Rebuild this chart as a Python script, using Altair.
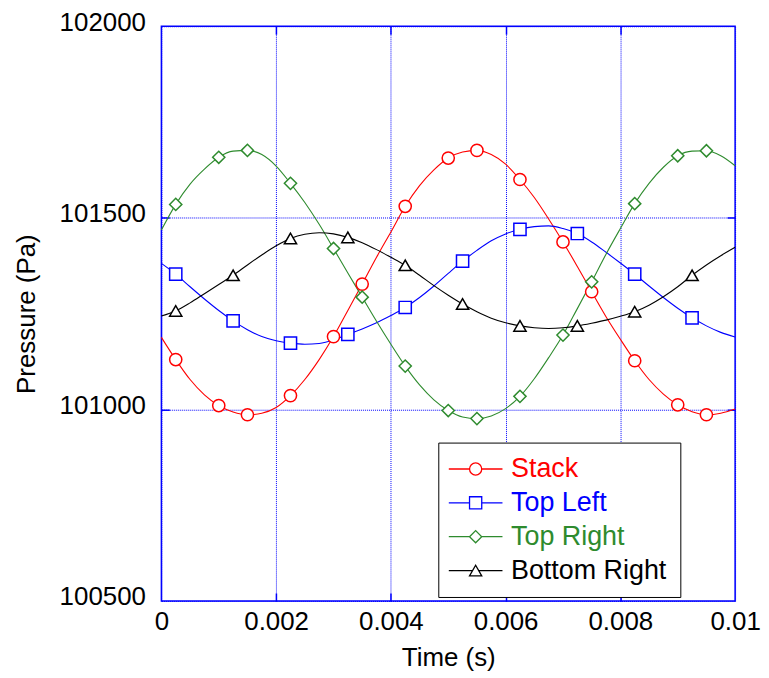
import altair as alt
import pandas as pd

# ---------------- data ----------------
time_s = [0.0, 0.00025, 0.0005, 0.00075, 0.001, 0.00125, 0.0015, 0.00175, 0.002, 0.00225,
          0.0025, 0.00275, 0.003, 0.00325, 0.0035, 0.00375, 0.004, 0.00425, 0.0045, 0.00475,
          0.005, 0.00525, 0.0055, 0.00575, 0.006, 0.00625, 0.0065, 0.00675, 0.007, 0.00725,
          0.0075, 0.00775, 0.008, 0.00825, 0.0085, 0.00875, 0.009, 0.00925, 0.0095, 0.00975, 0.01]

stack = [101188, 101130, 101078, 101038, 101010, 100993, 100986, 100990, 101005, 101036,
         101078, 101130, 101190, 101258, 101327, 101397, 101463, 101530, 101584, 101625,
         101656, 101672, 101676, 101665, 101640, 101600, 101553, 101497, 101437, 101373,
         101307, 101242, 101183, 101127, 101078, 101040, 101012, 100994, 100986, 100990, 101001]

top_left = [101381, 101353, 101320, 101288, 101258, 101231, 101208, 101190, 101179, 101173,
            101170, 101172, 101181, 101196, 101210, 101226, 101245, 101266, 101292, 101322,
            101355, 101387, 101415, 101440, 101458, 101470, 101477, 101479, 101472, 101459,
            101437, 101410, 101382, 101353, 101322, 101292, 101264, 101239, 101218, 101201, 101189]

top_right = [101468, 101535, 101588, 101627, 101658, 101674, 101676, 101665, 101635, 101590,
             101540, 101483, 101420, 101356, 101293, 101230, 101170, 101113, 101064, 101025,
             100997, 100980, 100976, 100983, 101002, 101034, 101080, 101135, 101194, 101263,
             101333, 101405, 101472, 101537, 101590, 101632, 101662, 101674, 101675, 101662, 101636]

bottom_right = [101244, 101257, 101278, 101302, 101326, 101350, 101377, 101403, 101427, 101446,
                101457, 101461, 101458, 101449, 101435, 101417, 101397, 101376, 101350, 101323,
                101298, 101275, 101255, 101238, 101226, 101218, 101213, 101211, 101213, 101218,
                101225, 101233, 101243, 101255, 101272, 101294, 101320, 101350, 101377, 101401, 101423]

series = ["Stack", "Top Left", "Top Right", "Bottom Right"]
colors = ["#ff0000", "#0000ff", "#2e8b2e", "#000000"]
shapes = ["circle", "square", "diamond", "triangle-up"]
marker_sizes = [150, 150, 150, 210]

markers_a = [0.00025, 0.001, 0.0015, 0.00225, 0.003, 0.0035, 0.00425, 0.005, 0.0055,
             0.00625, 0.007, 0.0075, 0.00825, 0.009, 0.0095]
markers_b = [0.00025, 0.00125, 0.00225, 0.00325, 0.00425, 0.00525, 0.00625, 0.00725,
             0.00825, 0.00925]

x_ticks = [0, 0.002, 0.004, 0.006, 0.008, 0.01]
x_inner = [0.002, 0.004, 0.006, 0.008]
y_ticks = [100500, 101000, 101500, 102000]
y_inner = [101000, 101500]

# legend symbols: marker with a line through it (unit radius 1)
legend_paths = [
    "M-4.4,0H-1M1,0A1,1,0,1,1,-1,0A1,1,0,1,1,1,0M1,0H4.4",
    "M-4.4,0H-1M-1,-1H1V1H-1ZM1,0H4.4",
    "M-4.4,0H-1M-1,0L0,-1L1,0L0,1ZM1,0H4.4",
    "M-4.4,0H-0.5M0,-0.866L1,0.866H-1ZM0.5,0H4.4",
]

# ---------------- tables ----------------
values = {"Stack": stack, "Top Left": top_left, "Top Right": top_right, "Bottom Right": bottom_right}
marker_times = {"Stack": markers_a, "Top Left": markers_b, "Top Right": markers_a, "Bottom Right": markers_b}

line_rows, marker_rows = [], []
for s in series:
    for t, p in zip(time_s, values[s]):
        line_rows.append({"t": t, "p": p, "series": s})
    for t in marker_times[s]:
        marker_rows.append({"t": t, "p": values[s][time_s.index(t)], "series": s})
line_df = pd.DataFrame(line_rows)
marker_df = pd.DataFrame(marker_rows)


def ternary(items, default):
    expr = repr(default)
    for name, val in reversed(items):
        expr = f"datum.value === {name!r} ? {val!r} : " + expr
    return expr


series_color_expr = ternary(list(zip(series, colors))[:-1], colors[-1])

FONT = "Arial"
BLUE = "#0000ff"

x_scale = alt.Scale(domain=[0, 0.01], nice=False, zero=False)
y_scale = alt.Scale(domain=[100500, 102000], nice=False, zero=False)
color_scale = alt.Scale(domain=series, range=colors)


def tick_axis(orient, vals):
    return alt.Axis(orient=orient, offset=-8, values=vals, labels=False, domain=False,
                    grid=False, ticks=True, tickSize=8, tickColor=BLUE, tickWidth=1.5,
                    title=None)


x_main = alt.Axis(orient="bottom", values=x_ticks, format="~g", ticks=False, domain=False,
                  grid=True, gridColor=BLUE, gridDash=[1, 1], gridWidth=1, gridOpacity=1,
                  labelFont=FONT, labelFontSize=26, labelColor="black", labelPadding=8,
                  labelFlush=False, labelOverlap=False,
                  titleFont=FONT, titleFontSize=26, titleFontWeight="normal",
                  titleColor="black", titlePadding=10)
y_main = alt.Axis(orient="left", values=y_ticks, format="d", ticks=False, domain=False,
                  grid=True, gridColor=BLUE, gridDash=[1, 1], gridWidth=1, gridOpacity=1,
                  labelFont=FONT, labelFontSize=26, labelColor="black", labelPadding=16,
                  labelOffset=-4, labelFlush=False, labelOverlap=False,
                  titleFont=FONT, titleFontSize=26, titleFontWeight="normal",
                  titleColor="black", titlePadding=20)

lines = alt.Chart(line_df).mark_line(interpolate="monotone", strokeWidth=1.1).encode(
    x=alt.X("t:Q", scale=x_scale, title="Time (s)", axis=x_main),
    y=alt.Y("p:Q", scale=y_scale, title="Pressure (Pa)", axis=y_main),
    color=alt.Color("series:N", scale=color_scale, legend=None),
)

points = alt.Chart(marker_df).mark_point(filled=False, fill="white", strokeWidth=1.5, opacity=1).encode(
    x=alt.X("t:Q", scale=x_scale, axis=tick_axis("bottom", x_inner)),
    y=alt.Y("p:Q", scale=y_scale, axis=tick_axis("left", y_inner)),
    color=alt.Color("series:N", scale=color_scale, legend=None),
    shape=alt.Shape("series:N", scale=alt.Scale(domain=series, range=shapes), legend=None),
    size=alt.Size("series:N", scale=alt.Scale(domain=series, range=marker_sizes), legend=None),
)

legend = alt.Legend(
    title=None, orient="none", legendX=278, legendY=418, direction="vertical",
    strokeColor="black", fillColor="white", padding=13,
    labelFont=FONT, labelFontSize=27, labelOffset=22, symbolOffset=11,
    labelColor={"expr": series_color_expr},
    symbolStrokeColor={"expr": series_color_expr},
    symbolSize=150, symbolStrokeWidth=1.3, symbolOpacity=1,
    symbolFillColor="white", rowPadding=6,
)

# invisible layer: carries the top/right inner ticks and the legend
legend_layer = alt.Chart(marker_df).mark_point(filled=False, opacity=0).encode(
    x=alt.X("t:Q", scale=x_scale, axis=tick_axis("top", x_inner)),
    y=alt.Y("p:Q", scale=y_scale, axis=tick_axis("right", y_inner)),
    shape=alt.Shape("series:N", scale=alt.Scale(domain=series, range=legend_paths),
                    legend=legend),
)

chart = alt.layer(lines, points, legend_layer).resolve_axis(
    x="independent", y="independent"
).resolve_scale(shape="independent").properties(
    width=576, height=577,
    padding={"left": 5, "top": 0, "right": 0, "bottom": 0},
).configure_view(stroke=BLUE, strokeWidth=1.5)

chart.save("out.html", embed_options={"renderer": "svg", "actions": False})
